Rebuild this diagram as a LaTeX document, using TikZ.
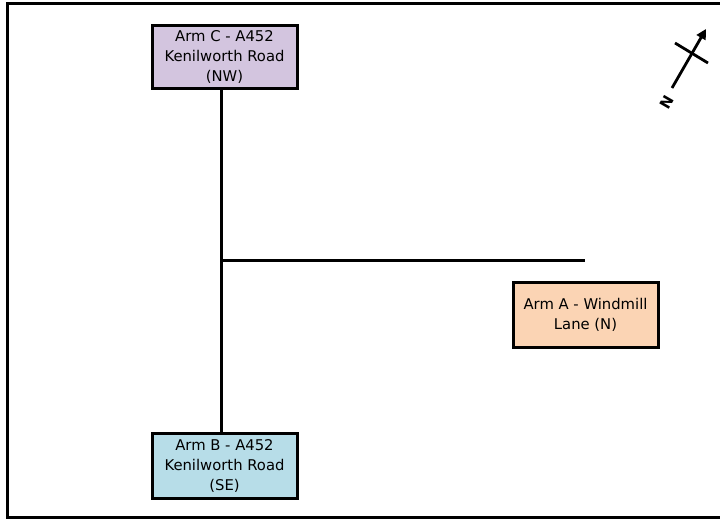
\documentclass[tikz,border=0pt]{standalone}
\usepackage{fontspec}
\setmainfont{DejaVu Sans}
\usetikzlibrary{arrows.meta}
\definecolor{armC}{RGB}{211,197,223}
\definecolor{armB}{RGB}{183,221,232}
\definecolor{armA}{RGB}{251,212,180}
\tikzset{
  armbox/.style={draw=black, line width=3pt, align=center, inner sep=0pt,
    minimum width=145pt, minimum height=64pt,
    font=\fontsize{14.8}{20}\selectfont},
  road/.style={line width=3pt},
}
\begin{document}
\begin{tikzpicture}[x=1pt,y=-1pt]
\useasboundingbox (0,0) rectangle (720,519);
\draw[line width=3pt] (725,4) -- (7.5,4) -- (7.5,517) -- (725,517);
\node[armbox, fill=armC, minimum height=62pt] (C) at (224.5,57) {Arm C - A452\\Kenilworth Road\\(NW)};
\node[armbox, fill=armB, minimum height=65pt] (B) at (224.5,465.5) {Arm B - A452\\Kenilworth Road\\(SE)};
\node[armbox, fill=armA, minimum height=65pt] (A) at (585.5,314.5) {Arm A - Windmill\\Lane (N)};
\coordinate (J) at (221,260);
\coordinate (E) at (585,260);
\draw[road] (C.south -| J) -- (B.north -| J);
\draw[road] (J) -- (E);
% north arrow
\coordinate (ntail) at (672,88);
\coordinate (nhead) at (706,29);
\coordinate (c1) at (675,43);
\coordinate (c2) at (708,63);
\draw[line width=2.8pt, -{Triangle[length=10pt,width=10pt]}] (ntail) -- (nhead);
\draw[line width=2.8pt] (c1) -- (c2);
\node[font=\bfseries\fontsize{15}{15}\selectfont, rotate=60, inner sep=0pt] (N) at (667,102) {N};
\end{tikzpicture}
\end{document}
